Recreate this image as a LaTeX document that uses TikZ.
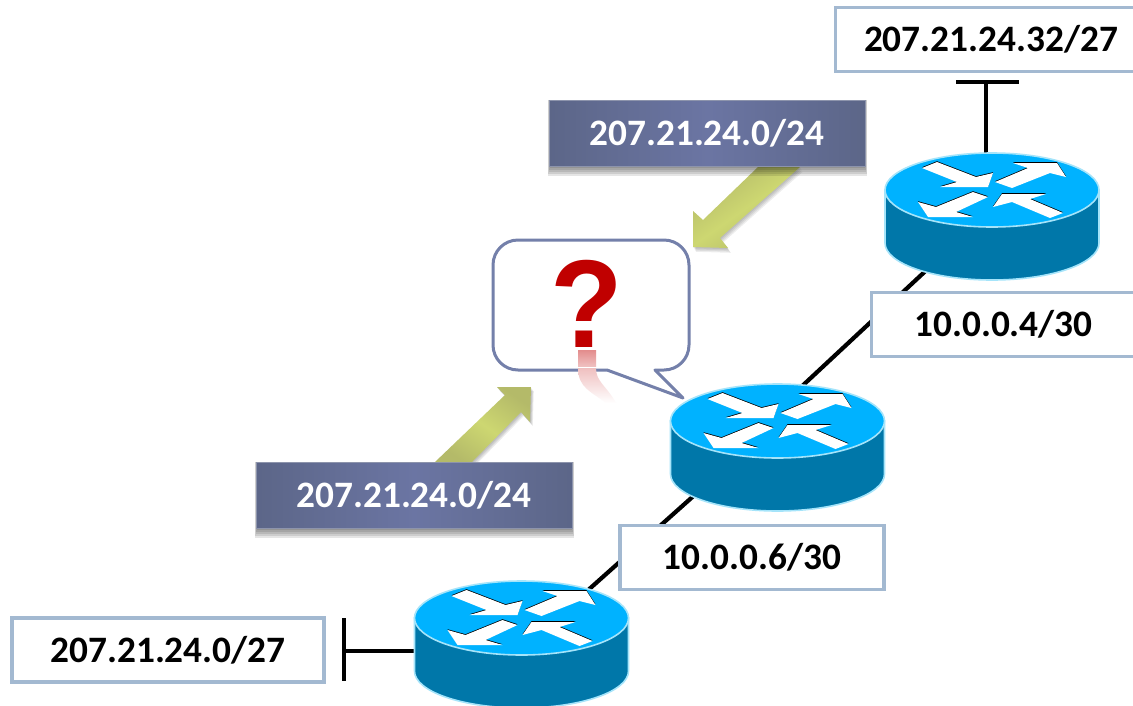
\documentclass[tikz,border=0pt]{standalone}
\usepackage{fontspec}
\setmainfont{Carlito}
\newfontfamily\qfont{Liberation Sans}
\definecolor{rtop}{HTML}{00B2FF}
\definecolor{rside}{HTML}{0077A9}
\definecolor{rrim}{HTML}{A5E4FA}
\definecolor{boxedge}{HTML}{A3B9D1}
\definecolor{blueedge}{HTML}{5C6688}
\definecolor{bluemid}{HTML}{6B75A3}
\definecolor{callout}{HTML}{7480AA}
\definecolor{greenmid}{HTML}{CDD771}
\definecolor{greenend}{HTML}{B4BA69}
\definecolor{qred}{HTML}{C00000}
\tikzset{
  wire/.style={line width=4.2pt,black},
  netlabel/.style={draw=boxedge,line width=3.4pt,fill=white,font=\fontsize{37.3}{40}\selectfont\bfseries,text=black,inner sep=0pt},
  routelabel/.style={minimum width=316pt,minimum height=66pt,inner sep=0pt,font=\fontsize{37.3}{40}\selectfont\bfseries,text=white,
    shade,shading angle=70,left color=blueedge,right color=blueedge,middle color=bluemid,draw=blueedge!70!white,line width=.5pt},
  bubble/.style={draw=callout,line width=3pt,fill=white,line join=round},
  greenarrow/.style={shade,left color=greenend,right color=greenend,middle color=greenmid},
  softshadow/.style={fill=black,opacity=.07,draw=none},
  arrowink/.style={fill=black,draw=none},
  arrowface/.style={fill=white,draw=none},
}
% four crossing arrows, in pixels from the centre of the top ellipse
\newcommand{\rarrow}[1]{
  \fill[arrowink,yshift=.8pt] #1;
  \fill[arrowface] #1;
}
\newcommand{\routerat}[3]{
  \coordinate (#1) at (#2,#3);
  \begin{scope}[shift={(#2,#3)}]
    \filldraw[fill=rside,draw=rrim,line width=1.6pt] (-107,0) -- (-107,53)
      arc[start angle=180,end angle=0,x radius=107,y radius=37] -- (107,0) -- cycle;
    \filldraw[fill=rtop,draw=rrim,line width=1.6pt] (0,0) ellipse[x radius=107,y radius=37];
    \rarrow{(-70,-22) -- (-55,-28) -- (-16,-13) -- (1,-17) -- (-4,-3) -- (-52,-3) -- (-35,-8) -- cycle}
    \rarrow{(3,-8) -- (36,-22) -- (21,-27) -- (65,-27) -- (74,-13) -- (58,-17) -- (20,-2) -- cycle}
    \rarrow{(-4,7) -- (-19,2) -- (-56,17) -- (-74,12) -- (-64,27) -- (-19,27) -- (-36,22) -- cycle}
    \rarrow{(1,17) -- (10,4) -- (54,4) -- (38,9) -- (71,23) -- (58,28) -- (20,12) -- cycle}
  \end{scope}
}
\begin{document}
\begin{tikzpicture}[x=1pt,y=-1pt]
\useasboundingbox (0,0) rectangle (1133,705);
\clip (0,0) rectangle (1133,705);
\fill[white] (0,0) rectangle (1133,705);

% named anchors for the connectors
\coordinate (r1c) at (992,209);
\coordinate (r2c) at (777.5,409);
\coordinate (r2d) at (777.5,421);
\coordinate (r3c) at (521,650);
\coordinate (t1) at (986,153);
\coordinate (t1s) at (986,82);
\coordinate (t1a) at (956,82);
\coordinate (t1b) at (1019,82);
\coordinate (t3) at (416,651);
\coordinate (t3s) at (344,651);
\coordinate (t3a) at (344,618);
\coordinate (t3b) at (344,681);

% connectors
\draw[wire] (r1c) -- (r2c);
\draw[wire] (r2d) -- (r3c);
\draw[wire] (t1) -- (t1s);
\draw[wire] (t1a) -- (t1b);
\draw[wire] (t3) -- (t3s);
\draw[wire] (t3a) -- (t3b);

% speech bubble
\draw[bubble] (518,240) -- (664,240) arc[start angle=-90,end angle=0,radius=25] -- (689,345)
  arc[start angle=0,end angle=90,radius=25] -- (655,370) -- (683,398) -- (607,370) -- (518,370)
  arc[start angle=90,end angle=180,radius=25] -- (493,265) arc[start angle=180,end angle=270,radius=25] -- cycle;

% question mark and its reflection
\node[inner sep=0pt,text=qred,font=\qfont\fontsize{125}{125}\selectfont\bfseries,anchor=base,xscale=.95] (qm) at (586.5,347) {?};
\shade[top color=qred!45,bottom color=qred!25] (578,350) rectangle (596,366);
\shade[top color=qred!25,bottom color=white] (578,368) -- (596,368) .. controls (596,382) and (606,385) .. (616,403) -- (606,403) .. controls (592,392) and (578,388) .. (578,368) -- cycle;

% routers
\routerat{r1}{992}{190}
\routerat{r2}{777.5}{421}
\routerat{r3}{521.5}{618}

% green arrows
\foreach \d in {1,2,3,4}{
  \fill[softshadow,xshift=.7*\d pt,yshift=-1.2*\d pt] (758,167) -- (703,220) -- (693,211) -- (693,247) -- (728,248) -- (720,238) -- (800,167) -- cycle;
  \fill[softshadow,xshift=.7*\d pt,yshift=-1.0*\d pt] (435,462) -- (505,395) -- (497,387) -- (531,387) -- (530,422) -- (521,412) -- (472,462) -- cycle;
}
\path[greenarrow,shading angle=35] (758,167) -- (703,220) -- (693,211) -- (693,247) -- (728,248) -- (720,238) -- (800,167) -- cycle;
\path[greenarrow,shading angle=-35] (435,462) -- (505,395) -- (497,387) -- (531,387) -- (530,422) -- (521,412) -- (472,462) -- cycle;

% route labels
\foreach \d in {2,4,6,8,10}{
  \fill[softshadow,opacity=.1] (550-.2*\d,100) rectangle (865+.2*\d,166+\d);
  \fill[softshadow,opacity=.1] (257-.2*\d,462) rectangle (572+.2*\d,528+\d);
}
\node[routelabel] (sumtop) at (707,133) {207.21.24.0/24};
\node[routelabel] (sumbot) at (414,495) {207.21.24.0/24};

% network labels
\node[netlabel,minimum width=300pt,minimum height=64pt] (n1) at (985.5,39.5) {\hspace*{11pt}207.21.24.32/27};
\node[netlabel,minimum width=264pt,minimum height=64pt] (n2) at (1003.5,324.5) {10.0.0.4/30};
\node[netlabel,minimum width=264pt,minimum height=64pt] (n3) at (752,557.5) {10.0.0.6/30};
\node[netlabel,minimum width=312pt,minimum height=64pt] (n4) at (168,650) {207.21.24.0/27};
\end{tikzpicture}
\end{document}
